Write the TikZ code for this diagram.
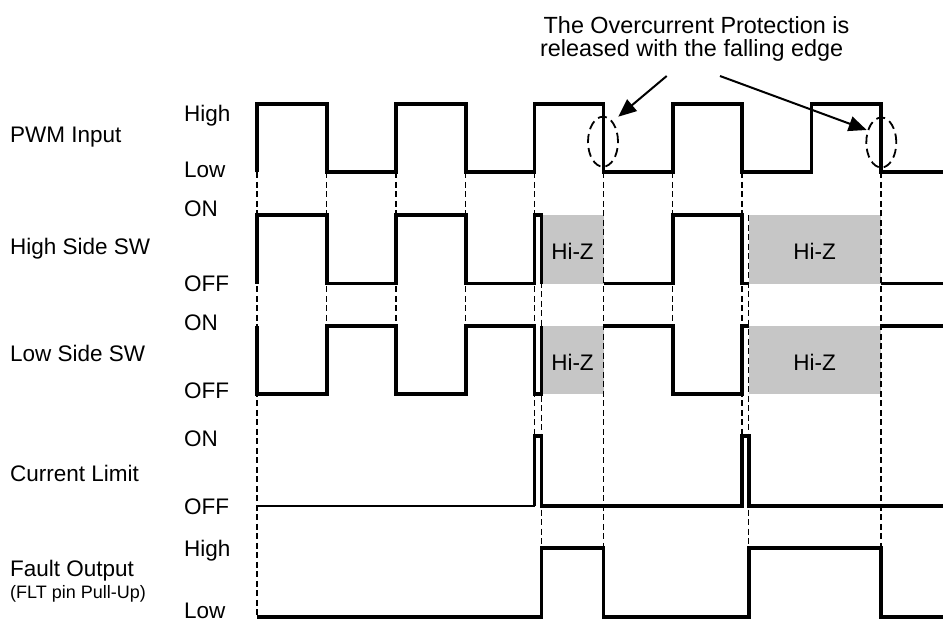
\documentclass[tikz,border=0pt]{standalone}
\usepackage{fontspec}
\setmainfont{Liberation Sans}
\usetikzlibrary{arrows.meta,shapes.geometric}
\begin{document}
\begin{tikzpicture}[x=1pt,y=-1pt,
  wave/.style={line width=3.8pt,line join=miter},
  thinwave/.style={line width=2pt},
  guide/.style={line width=1.5pt,dash pattern=on 6pt off 3.5pt},
  hiz/.style={fill={rgb,255:red,198;green,198;blue,198},draw=none},
  sig/.style={anchor=base west,inner sep=0pt,font=\fontsize{22.5}{27}\selectfont},
  small/.style={anchor=base west,inner sep=0pt,font=\fontsize{18}{22}\selectfont},
  lvl/.style={anchor=base west,inner sep=0pt,font=\fontsize{22.5}{27}\selectfont},
  hiztext/.style={anchor=center,inner sep=0pt,font=\fontsize{22.5}{27}\selectfont},
  ann/.style={anchor=base,inner sep=0pt,font=\fontsize{23.4}{28}\selectfont},
  oval/.style={draw,ellipse,line width=1.8pt,dash pattern=on 9pt off 5pt,minimum width=30pt,minimum height=50pt,inner sep=0pt},
  callout/.style={line width=2pt,-{Triangle[length=18pt,width=15pt]}}
]
\useasboundingbox (0,0) rectangle (943,625);

% Hi-Z boxes
\fill[hiz] (541.5,215) rectangle (603.5,283.5);
\fill[hiz] (541.5,326) rectangle (603.5,394);
\fill[hiz] (748.7,215) rectangle (880.8,283.5);
\fill[hiz] (748.7,326) rectangle (880.8,394);

% guide lines
\draw[guide] (257,172.3) -- (257,617);
\draw[guide] (326.7,172.3) -- (326.7,326);
\draw[guide] (396,172.3) -- (396,326);
\draw[guide] (465.7,172.3) -- (465.7,326);
\draw[guide] (534.5,172.3) -- (534.5,436);
\draw[guide] (541.5,215) -- (541.5,548);
\draw[guide] (603.5,172.3) -- (603.5,548);
\draw[guide] (672.7,172.3) -- (672.7,326);
\draw[guide] (741.8,172.3) -- (741.8,436);
\draw[guide] (748.7,215) -- (748.7,548);
\draw[guide] (880.8,172.3) -- (880.8,548);

% PWM input
\draw[wave] (257,172.3) -- (257,104) -- (326.7,104) -- (326.7,172.3) -- (396,172.3) -- (396,104)
  -- (465.7,104) -- (465.7,172.3) -- (534.5,172.3) -- (534.5,104) -- (603.5,104) -- (603.5,172.3)
  -- (672.7,172.3) -- (672.7,104) -- (741.8,104) -- (741.8,172.3) -- (811.5,172.3) -- (811.5,104)
  -- (880.8,104) -- (880.8,172.3) -- (943,172.3);

% High side SW
\draw[wave] (257,283.5) -- (257,215) -- (326.7,215) -- (326.7,283.5) -- (396,283.5) -- (396,215)
  -- (465.7,215) -- (465.7,283.5) -- (534.5,283.5) -- (534.5,215) -- (541.5,215) -- (541.5,283.5);
\draw[wave] (603.5,283.5) -- (672.7,283.5) -- (672.7,215) -- (741.8,215) -- (741.8,283.5) -- (748.7,283.5);
\draw[wave] (880.8,283.5) -- (943,283.5);

% Low side SW
\draw[wave] (257,326) -- (257,394) -- (326.7,394) -- (326.7,326) -- (396,326) -- (396,394)
  -- (465.7,394) -- (465.7,326) -- (534.5,326) -- (534.5,394) -- (541.5,394) -- (541.5,326);
\draw[wave] (603.5,326) -- (672.7,326) -- (672.7,394) -- (741.8,394) -- (741.8,326) -- (748.7,326);
\draw[wave] (880.8,326) -- (943,326);

% Current limit
\draw[thinwave] (257,506) -- (534.5,506);
\draw[wave] (534.5,506) -- (534.5,436) -- (541.5,436) -- (541.5,506) -- (741.8,506) -- (741.8,436)
  -- (748.7,436) -- (748.7,506) -- (943,506);

% Fault output
\draw[wave] (257,617) -- (541.5,617) -- (541.5,548) -- (603.5,548) -- (603.5,617) -- (748.7,617)
  -- (748.7,548) -- (880.8,548) -- (880.8,617) -- (943,617);

% signal names
\node[sig] (n1) at (10,142) {PWM Input};
\node[sig] (n2) at (10,254.5) {High Side SW};
\node[sig] (n3) at (10,361) {Low Side SW};
\node[sig] (n4) at (10,481) {Current Limit};
\node[sig] (n5) at (10,576) {Fault Output};
\node[small] (n6) at (10,598.5) {(FLT pin Pull-Up)};

% level names
\node[lvl] (l1) at (184,121) {High};
\node[lvl] (l2) at (184,177) {Low};
\node[lvl] (l3) at (184,216) {ON};
\node[lvl] (l4) at (184,291) {OFF};
\node[lvl] (l5) at (184,330) {ON};
\node[lvl] (l6) at (184,398) {OFF};
\node[lvl] (l7) at (184,446) {ON};
\node[lvl] (l8) at (184,514) {OFF};
\node[lvl] (l9) at (184,556) {High};
\node[lvl] (l10) at (184,618) {Low};

% Hi-Z labels
\node[hiztext] (z1) at (572.5,251) {Hi-Z};
\node[hiztext] (z2) at (572.5,362) {Hi-Z};
\node[hiztext] (z3) at (814.7,251) {Hi-Z};
\node[hiztext] (z4) at (814.7,362) {Hi-Z};

% annotation
\node[ann] (t1) at (696.5,33.3) {The Overcurrent Protection is};
\node[ann] (t2) at (691.7,56.7) {released with the falling edge};
\node[oval] (o1) at (603,141.7) {};
\node[oval] (o2) at (881.3,142.5) {};
\coordinate (a1s) at (666.7,76);
\coordinate (a1e) at (618.3,116.7);
\coordinate (a2s) at (720,76);
\coordinate (a2e) at (866.7,130);
\draw[callout] (a1s) -- (a1e);
\draw[callout] (a2s) -- (a2e);
\end{tikzpicture}
\end{document}
